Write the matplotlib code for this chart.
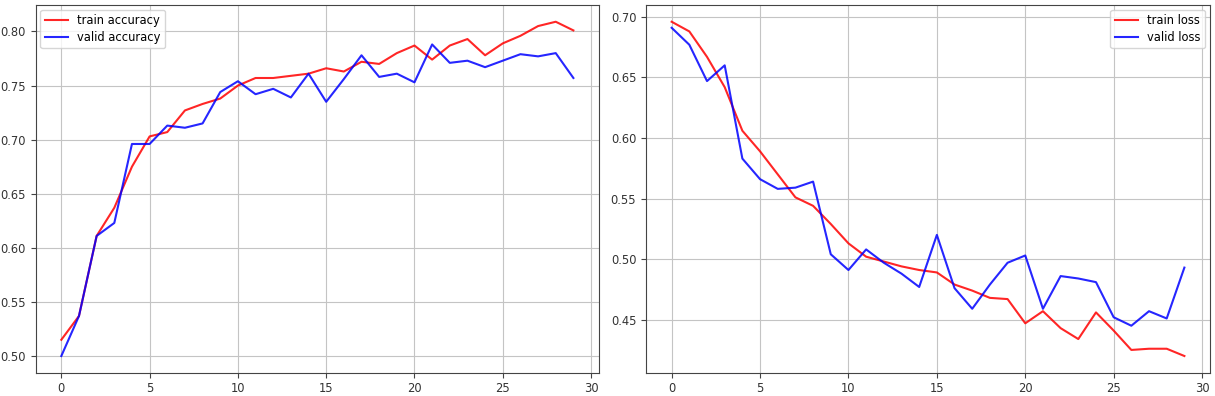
import matplotlib
matplotlib.use("Agg")
import matplotlib.pyplot as plt

# Data (30 epochs)
epochs = list(range(30))

train_acc = [0.515, 0.537, 0.611, 0.637, 0.675, 0.703, 0.707, 0.727, 0.733, 0.738,
             0.750, 0.757, 0.757, 0.759, 0.761, 0.766, 0.763, 0.772, 0.770, 0.780,
             0.787, 0.774, 0.787, 0.793, 0.778, 0.789, 0.796, 0.805, 0.809, 0.801]
valid_acc = [0.500, 0.537, 0.611, 0.623, 0.696, 0.696, 0.713, 0.711, 0.715, 0.744,
             0.754, 0.742, 0.747, 0.739, 0.761, 0.735, 0.756, 0.778, 0.758, 0.761,
             0.753, 0.788, 0.771, 0.773, 0.767, 0.773, 0.779, 0.777, 0.780, 0.757]

train_loss = [0.696, 0.688, 0.667, 0.642, 0.606, 0.589, 0.570, 0.551, 0.544, 0.529,
              0.513, 0.502, 0.498, 0.494, 0.491, 0.489, 0.479, 0.474, 0.468, 0.467,
              0.447, 0.457, 0.443, 0.434, 0.456, 0.441, 0.425, 0.426, 0.426, 0.420]
valid_loss = [0.691, 0.677, 0.647, 0.660, 0.583, 0.566, 0.558, 0.559, 0.564, 0.504,
              0.491, 0.508, 0.497, 0.488, 0.477, 0.520, 0.476, 0.459, 0.479, 0.497,
              0.503, 0.459, 0.486, 0.484, 0.481, 0.452, 0.445, 0.457, 0.451, 0.493]

plt.rcParams["font.size"] = 8.3
plt.rcParams["axes.edgecolor"] = "#444444"
plt.rcParams["xtick.color"] = "#444444"
plt.rcParams["ytick.color"] = "#444444"
plt.rcParams["xtick.labelcolor"] = "#333333"
plt.rcParams["ytick.labelcolor"] = "#333333"
plt.rcParams["grid.color"] = "#c4c4c4"
plt.rcParams["legend.labelspacing"] = 0.3
plt.rcParams["legend.borderaxespad"] = 0.4

fig = plt.figure(figsize=(12.15, 3.96), dpi=100)
ax1 = fig.add_axes([0.0294, 0.0588, 0.4636, 0.9285])
ax2 = fig.add_axes([0.5317, 0.0588, 0.4642, 0.9285])

ax1.plot(epochs, train_acc, color="red", alpha=0.85, lw=1.5, label="train accuracy")
ax1.plot(epochs, valid_acc, color="blue", alpha=0.85, lw=1.5, label="valid accuracy")
ax1.legend(loc="upper left")
ax1.grid(True)

ax2.plot(epochs, train_loss, color="red", alpha=0.85, lw=1.5, label="train loss")
ax2.plot(epochs, valid_loss, color="blue", alpha=0.85, lw=1.5, label="valid loss")
ax2.legend(loc="upper right")
ax2.grid(True)

for ax in (ax1, ax2):
    ax.set_xticks([0, 5, 10, 15, 20, 25, 30])

fig.savefig("out.png", dpi=100)
